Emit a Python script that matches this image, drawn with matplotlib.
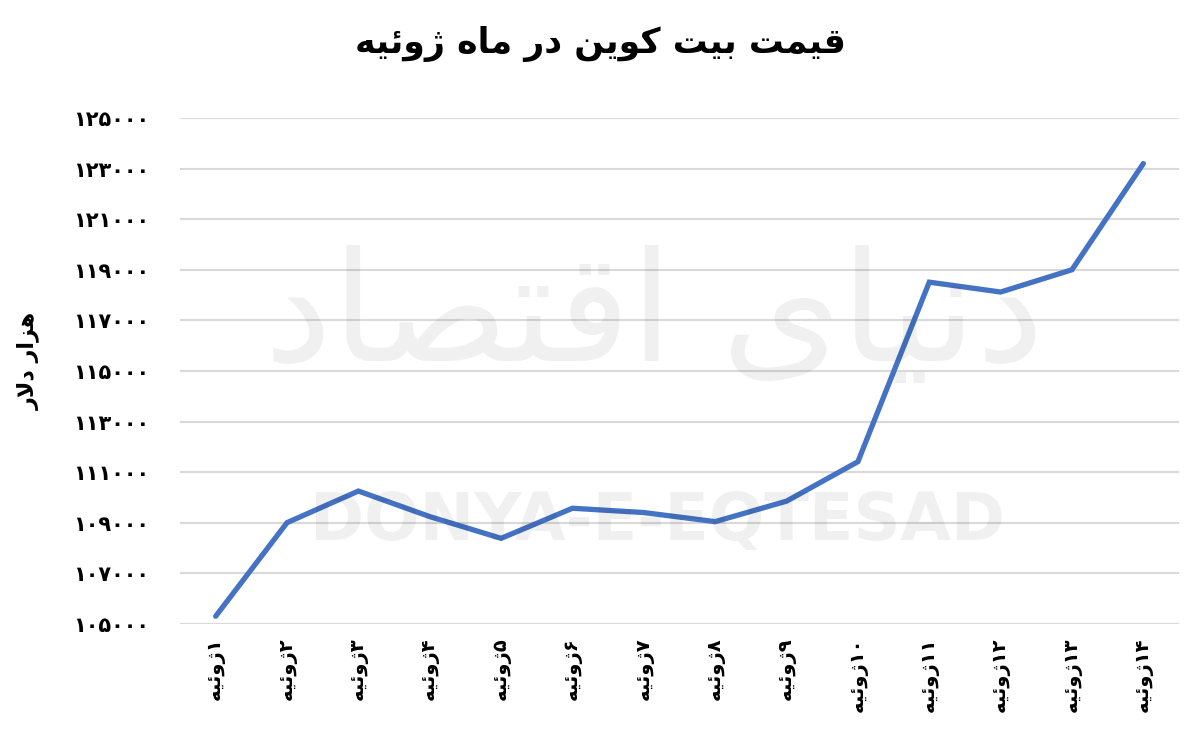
import matplotlib
matplotlib.use("Agg")
import matplotlib.pyplot as plt
from matplotlib.ticker import FixedLocator, FuncFormatter

# ── data ──
days = list(range(1, 15))
prices = [105300, 109000, 110250, 109240, 108380, 109570, 109400,
          109040, 109850, 111410, 118510, 118120, 119000, 123200]
y_ticks = list(range(105000, 125001, 2000))

title_txt = "قیمت بیت کوین در ماه ژوئیه"
ylabel_txt = "هزار دلار"
month_txt = "ژوئیه"
logo_txt = "دنیای اقتصاد"
brand_txt = "DONYA-E-EQTESAD"

# ── minimal arabic/persian shaping (matplotlib has no complex text layout) ──
# isolated, final, initial, medial
FORMS = {
    "\u0627": ("\uFE8D", "\uFE8E", None, None),
    "\u0628": ("\uFE8F", "\uFE90", "\uFE91", "\uFE92"),
    "\u062A": ("\uFE95", "\uFE96", "\uFE97", "\uFE98"),
    "\u062F": ("\uFEA9", "\uFEAA", None, None),
    "\u0631": ("\uFEAD", "\uFEAE", None, None),
    "\u0632": ("\uFEAF", "\uFEB0", None, None),
    "\u0698": ("\uFB8A", "\uFB8B", None, None),
    "\u0635": ("\uFEB9", "\uFEBA", "\uFEBB", "\uFEBC"),
    "\u0642": ("\uFED5", "\uFED6", "\uFED7", "\uFED8"),
    "\u06A9": ("\uFB8E", "\uFB8F", "\uFB90", "\uFB91"),
    "\u0644": ("\uFEDD", "\uFEDE", "\uFEDF", "\uFEE0"),
    "\u0645": ("\uFEE1", "\uFEE2", "\uFEE3", "\uFEE4"),
    "\u0646": ("\uFEE5", "\uFEE6", "\uFEE7", "\uFEE8"),
    "\u0647": ("\uFEE9", "\uFEEA", "\uFEEB", "\uFEEC"),
    "\u0648": ("\uFEED", "\uFEEE", None, None),
    "\u06CC": ("\uFBFC", "\uFBFD", "\uFBFE", "\uFBFF"),
    "\u0626": ("\uFE89", "\uFE8A", "\uFE8B", "\uFE8C"),
}


def _joins_left(c):
    return c in FORMS and FORMS[c][2] is not None


def shape(text):
    """Return visual (left-to-right) string for an RTL Persian text."""
    out = []
    i = 0
    while i < len(text):
        c = text[i]
        if c not in FORMS:
            out.append(c)
            i += 1
            continue
        prev = text[i - 1] if i > 0 else ""
        nxt = text[i + 1] if i + 1 < len(text) else ""
        pj = _joins_left(prev)
        if c == "\u0644" and nxt == "\u0627":  # lam-alef
            out.append("\uFEFC" if pj else "\uFEFB")
            i += 2
            continue
        nj = nxt in FORMS and _joins_left(c)
        iso, fin, ini, med = FORMS[c]
        if pj and nj:
            out.append(med)
        elif pj:
            out.append(fin)
        elif nj:
            out.append(ini)
        else:
            out.append(iso)
        i += 1
    return "".join(out)[::-1]


FA_DIGITS = str.maketrans("0123456789", "۰۱۲۳۴۵۶۷۸۹")


def fa_num(n):
    return str(n).translate(FA_DIGITS)


x_labels = [shape(month_txt) + fa_num(d) for d in days]

# ── plot ──
plt.rcParams["font.family"] = ["DejaVu Sans"]
fig = plt.figure(figsize=(12, 7.4), dpi=100)
ax = fig.add_axes([0.15, 0.157, 0.8325, 0.6835])

xs = list(range(len(days)))
ax.plot(xs, prices, color="#4472C4", lw=3.8, solid_capstyle="round",
        solid_joinstyle="miter", zorder=4)

ax.set_xlim(-0.5, len(days) - 0.5)
ax.set_ylim(y_ticks[0], y_ticks[-1])
ax.yaxis.set_major_locator(FixedLocator(y_ticks))
ax.yaxis.set_major_formatter(FuncFormatter(lambda v, p: fa_num(int(v))))
ax.set_xticks(xs)
ax.set_xticklabels(x_labels, rotation=90, fontsize=14, fontweight="bold")
for lab in ax.get_yticklabels():
    lab.set_fontsize(15)
    lab.set_fontweight("bold")
ax.tick_params(axis="both", length=0)
ax.tick_params(axis="y", pad=22)
ax.tick_params(axis="x", pad=10)

ax.grid(axis="y", color="#d9d9d9", lw=1.5, zorder=1)
ax.set_axisbelow(True)
for s in ax.spines.values():
    s.set_visible(False)

# watermark
fig.text(0.548, 0.295, brand_txt, ha="center", va="center", fontsize=47,
         fontweight="bold", color="#000000", alpha=0.06, zorder=5)
fig.text(0.545, 0.57, shape(logo_txt), ha="center", va="center", fontsize=110,
         color="#000000", alpha=0.06, zorder=0)

ax.set_ylabel(shape(ylabel_txt), fontsize=16, fontweight="bold")
ax.yaxis.set_label_coords(-0.14, 0.52)
fig.suptitle(shape(title_txt), fontsize=25, fontweight="bold", y=0.965)

fig.savefig("out.png", dpi=100, facecolor="white")
